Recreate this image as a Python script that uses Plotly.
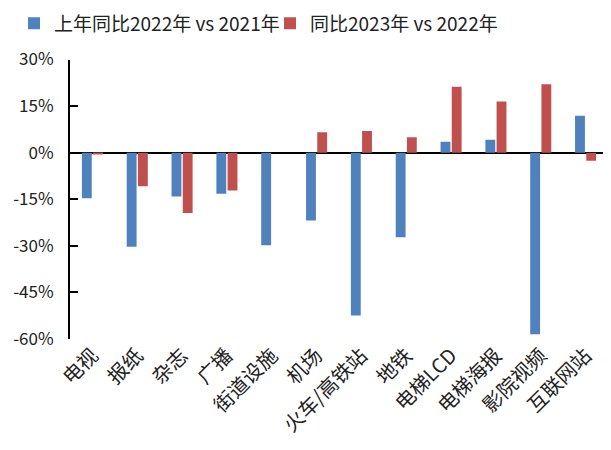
import plotly.graph_objects as go

CATEGORIES = ["电视", "报纸", "杂志", "广播", "街道设施", "机场", "火车/高铁站",
              "地铁", "电梯LCD", "电梯海报", "影院视频", "互联网站"]
SERIES_2022 = [-14.7, -30.3, -14.1, -13.2, -29.8, -21.8, -52.4, -27.2, 3.5, 4.2, -58.5, 11.9]
SERIES_2023 = [-0.5, -10.8, -19.4, -12.2, None, 6.6, 7.0, 5.0, 21.2, 16.5, 22.0, -2.6]
NAME_2022 = "上年同比2022年 vs 2021年"
NAME_2023 = "同比2023年 vs 2022年"
Y_TICKS = [30, 15, 0, -15, -30, -45, -60]

FONT = "Noto Sans CJK SC, Liberation Sans, sans-serif"

fig = go.Figure()
fig.add_trace(go.Bar(x=CATEGORIES, y=SERIES_2022, name=NAME_2022,
                     marker=dict(color="#4F81BD", line=dict(width=0))))
fig.add_trace(go.Bar(x=CATEGORIES, y=SERIES_2023, name=NAME_2023,
                     marker=dict(color="#C0504D", line=dict(width=0))))

# page body has an 8px margin, so the figure is a bit smaller than the window
fig.update_layout(
    width=603, height=442,
    margin=dict(l=62, r=3, t=49, b=111),
    paper_bgcolor="white",
    plot_bgcolor="white",
    font=dict(family=FONT, color="#222222", size=18),
    barmode="group",
    bargap=0.5,
    bargroupgap=0.12,
    legend=dict(
        orientation="h",
        xref="container", yref="container",
        x=0.01, y=0.965, xanchor="left", yanchor="middle",
        font=dict(size=19, color="#222222"),
        itemwidth=30,
        entrywidth=211,
        entrywidthmode="pixels",
        tracegroupgap=0,
    ),
    xaxis=dict(
        tickangle=-45,
        tickfont=dict(size=20, color="#222222"),
        showline=False,
        showgrid=False,
        ticks="",
    ),
    yaxis=dict(
        range=[-60, 30],
        tickvals=Y_TICKS,
        ticktext=[f"{v}%" for v in Y_TICKS],
        tickfont=dict(size=17, color="#222222"),
        ticklabelstandoff=11,
        showline=True, linecolor="black", linewidth=2,
        ticks="inside", ticklen=8, tickcolor="black", tickwidth=2,
        showgrid=False,
        zeroline=True, zerolinecolor="black", zerolinewidth=2,
    ),
)

fig.write_html("out.html")
